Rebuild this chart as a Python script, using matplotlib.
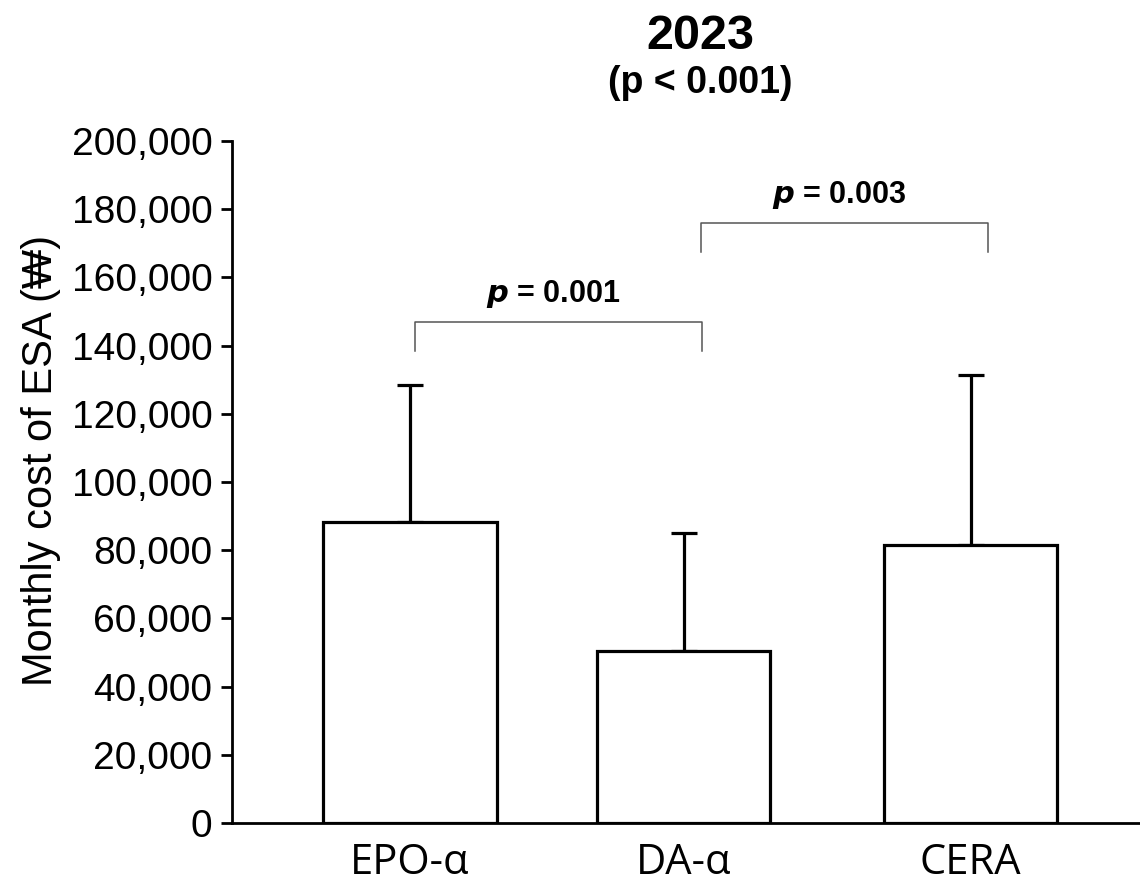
import numpy as np
import matplotlib
matplotlib.use("Agg")
import matplotlib.pyplot as plt

plt.rcParams['font.family'] = ['Liberation Sans', 'DejaVu Sans']

# monthly ESA cost by agent (mean, SD), won
drugs = ['EPO-\u03b1', 'DA-\u03b1', 'CERA']
mean_cost = [88400, 50500, 81500]
sd_cost = [40100, 34400, 49900]
yticks = np.arange(0, 200001, 20000)

# pairwise comparisons: (from, to, p label)
pairs = [(0, 1, '0.001'), (1, 2, '0.003')]
levels = [146800, 175900]

xpos = np.array([0.0, 1.0, 2.05])

fig = plt.figure(figsize=(11.4, 8.88), dpi=100)
ax = fig.add_axes([0.2035, 0.0732, 0.7965, 0.768])

ax.bar(xpos, mean_cost, width=0.633, color='white', edgecolor='black', linewidth=2.3, zorder=2)
ax.errorbar(xpos, mean_cost, yerr=[np.zeros(len(sd_cost)), sd_cost], fmt='none',
            ecolor='black', elinewidth=2.3, capsize=9.5, capthick=2.3, zorder=1)

ax.set_xlim(-0.651, 2.669)
ax.set_ylim(0, 200000)
ax.set_yticks(yticks)
ax.set_yticklabels([f'{v:,}' for v in yticks], fontsize=28)
ax.set_xticks(xpos)
ax.set_xticklabels(drugs, fontsize=30, family=['Open Sans', 'DejaVu Sans'])
ax.tick_params(axis='x', length=0, pad=14)
ax.tick_params(axis='y', length=8, width=2, direction='out', pad=6)
for s in ['top', 'right']:
    ax.spines[s].set_visible(False)
for s in ['left', 'bottom']:
    ax.spines[s].set_linewidth(2)
ax.set_ylabel('Monthly cost of ESA (\u20a9)', fontsize=30)
ax.yaxis.set_label_coords(-0.188, 0.532)

# significance brackets
for (i, j, p), lvl in zip(pairs, levels):
    x0 = xpos[i] + (0.017 if i == 0 else 0.063)
    x1 = xpos[j] + (0.067 if j == 1 else 0.063)
    ax.plot([x0, x0, x1, x1], [lvl - 8500, lvl, lvl, lvl - 8500], color='#555555', lw=1.1,
            clip_on=False)
    ax.text((x0 + x1) / 2 - 0.02, lvl + 3500, r'$\bfit{p}$ = ' + p, ha='center', va='bottom',
            fontsize=22, fontweight='bold')

fig.text(0.614, 0.959, '2023', ha='center', va='center', fontsize=35, fontweight='bold')
fig.text(0.614, 0.906, '(p < 0.001)', ha='center', va='center', fontsize=27, fontweight='bold')

fig.savefig('out.png', dpi=100)
